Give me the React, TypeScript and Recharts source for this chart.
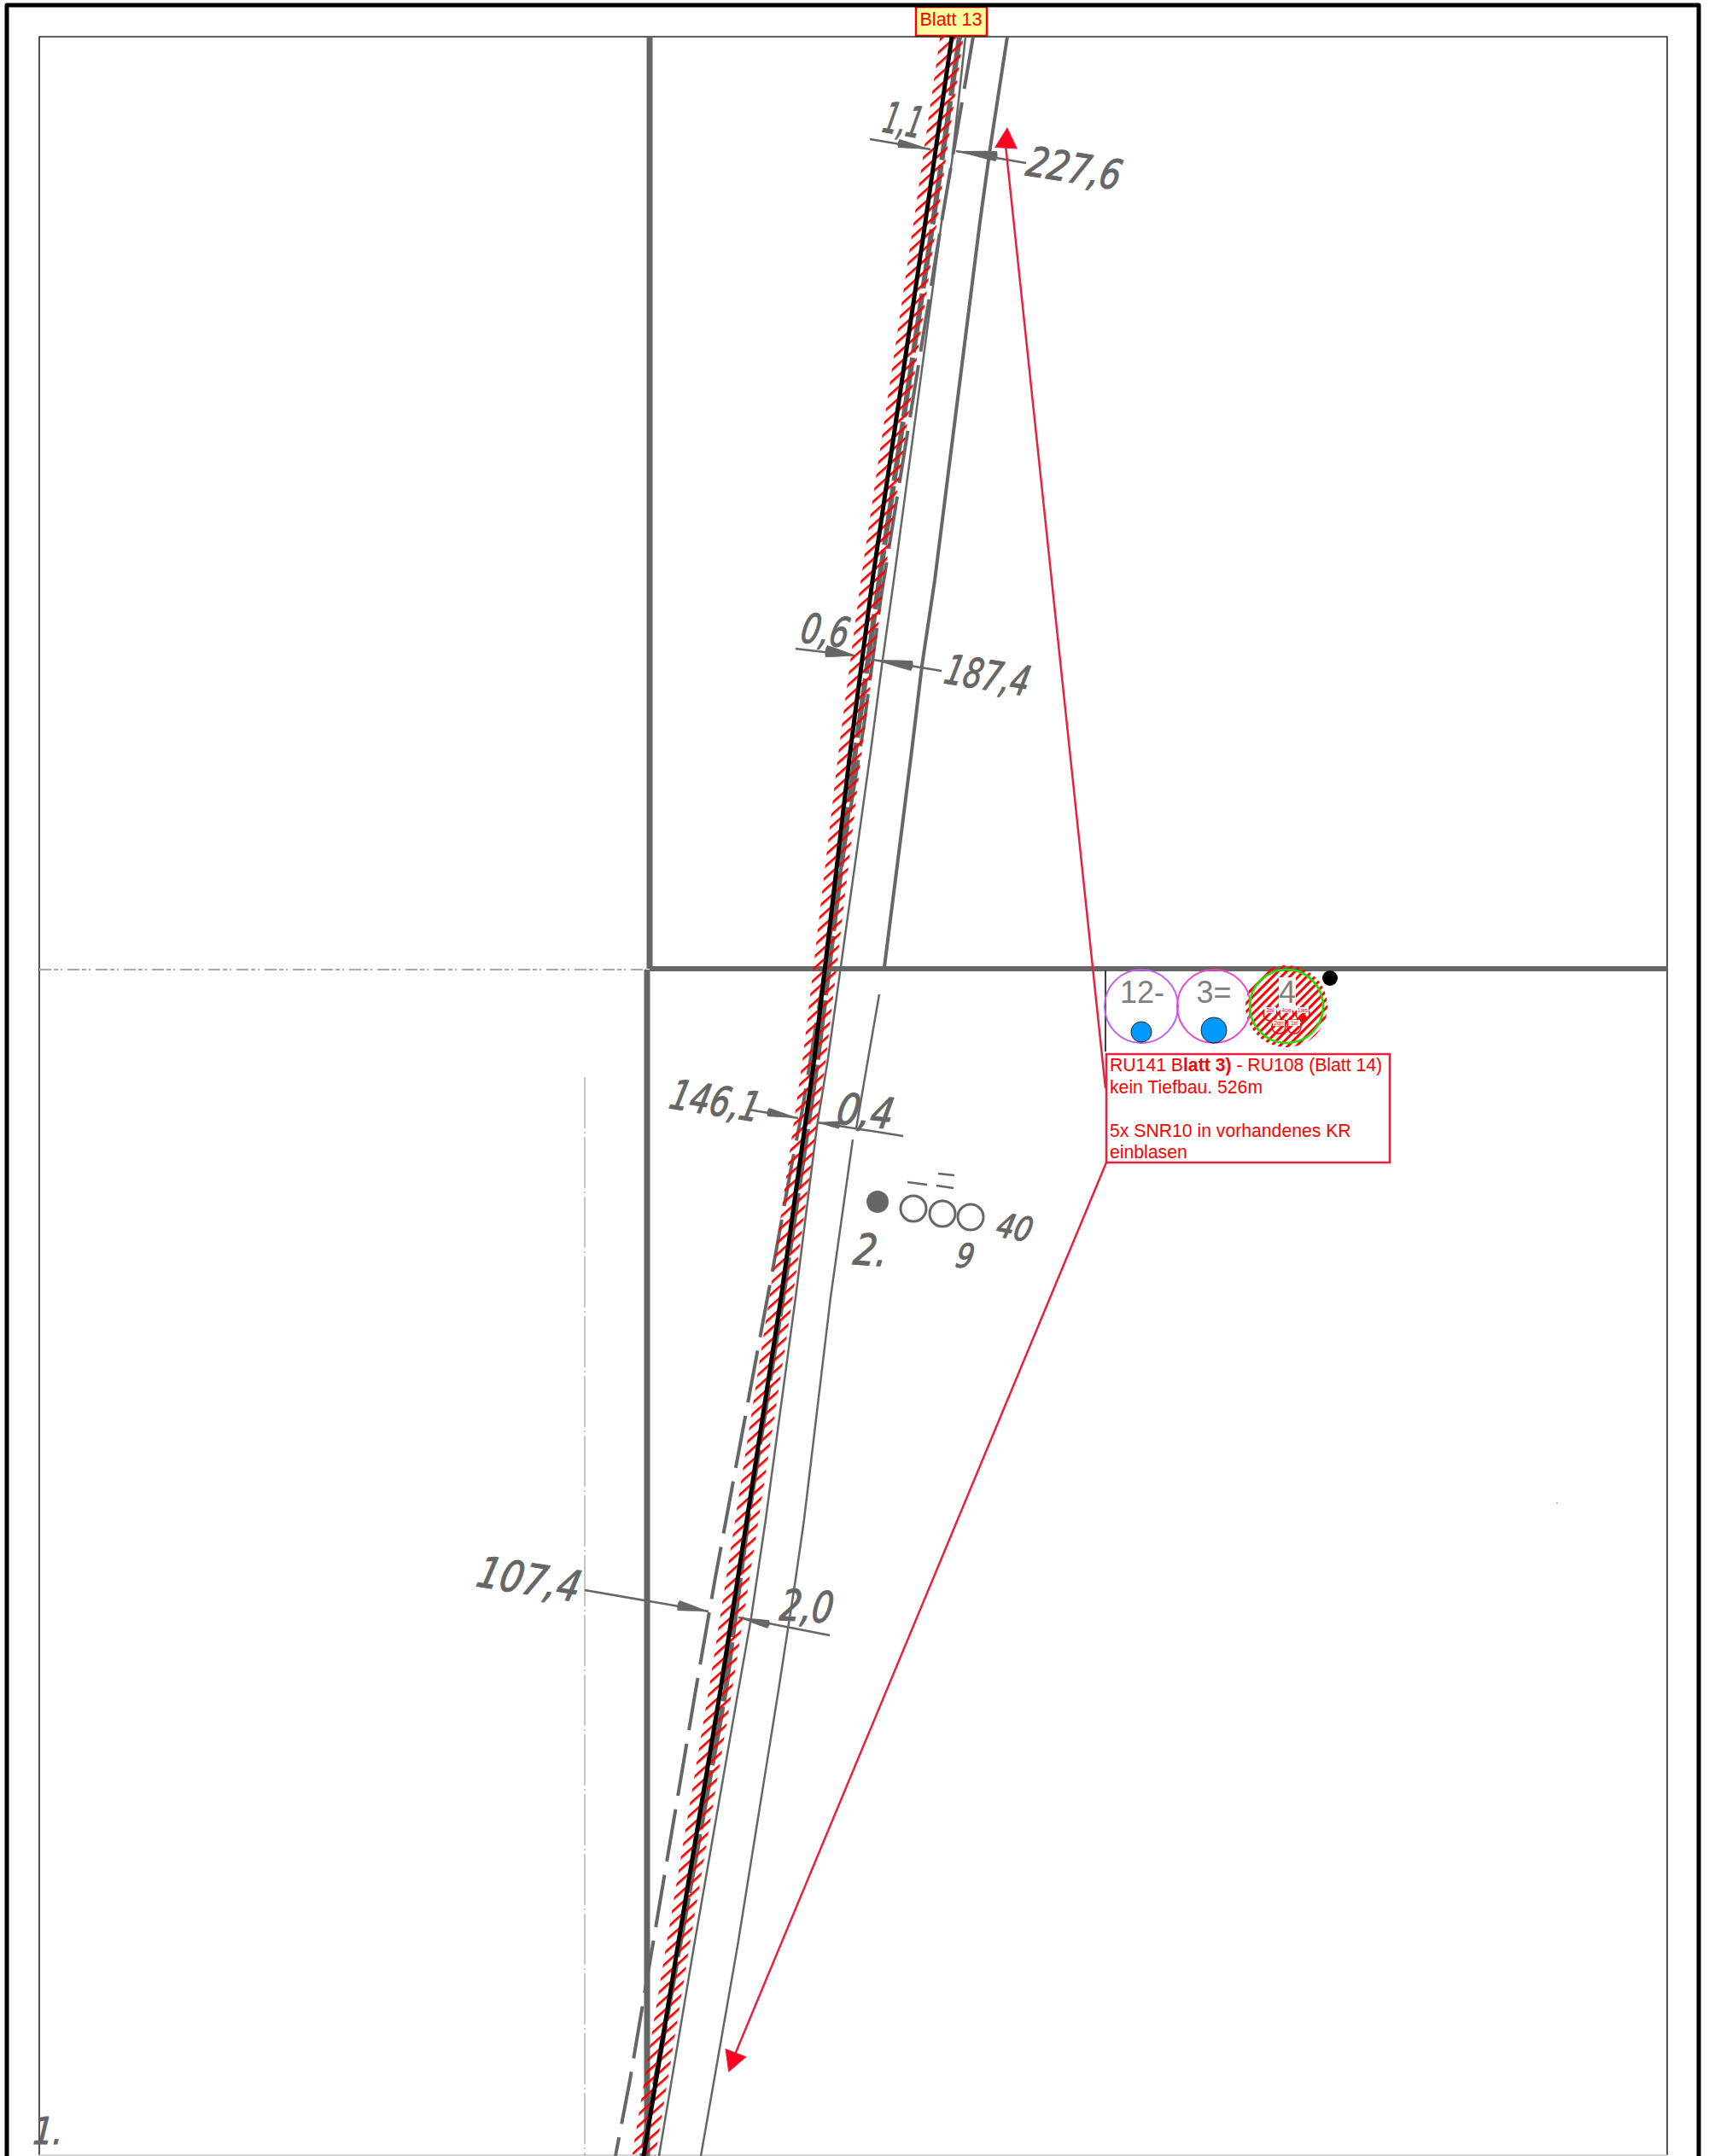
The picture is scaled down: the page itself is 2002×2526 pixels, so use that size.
import React from "react";
import { ComposedChart, Line, Scatter, XAxis, YAxis, ReferenceArea } from "recharts";

type P = { x: number; y: number };
const pts = (...v: number[][]): P[] => v.map(([x, y]) => ({ x, y }));

const GREY = "#666666";
const CRIMSON = "#e8203f";
const RED = "#ff0000";

const outerBorder = pts([8, 2530], [8, 6], [1990, 6], [1990, 2530]);
const frame = pts([46, 2525], [46, 43], [1953, 43], [1953, 2525]);
const frameBottom = pts([46, 2525], [1953, 2525]);

const mainCable = pts([1115, 43], [1084, 260], [1022, 680], [996, 880], [954, 1240], [915, 1520], [875, 1780], [844, 1980], [794, 2280], [754, 2526]);
const greyBand = pts([1124, 43], [1093, 260], [1030, 680], [1002, 880], [958, 1240], [917, 1520], [876, 1780], [850, 1980], [796, 2280], [752, 2526]);
const dashedEdge = pts([1140, 43], [1103, 260], [1032, 700], [1012, 850], [940, 1300], [927, 1367], [906, 1483], [838, 1848], [815, 1980], [738, 2437], [721, 2526]);
const lineB = pts([1131, 43], [1115, 190], [1103, 260], [1047, 680], [1033, 780], [1020, 880], [970, 1240], [957, 1320], [932, 1520], [897, 1780], [880, 1895], [865, 1980], [813, 2280], [772, 2526]);
const lineC1 = pts([1180, 43], [1160, 173], [1148, 260], [1095, 680], [1080, 780], [1068, 880], [1036, 1133]);
const lineC2 = pts([1030, 1165], [1017, 1240], [1003, 1322]);
const lineC3 = pts([999, 1335], [973, 1520], [942, 1780], [932, 1850], [912, 1980], [864, 2280], [821, 2526]);

const gridH = pts([761, 1135], [1953, 1135]);
const gridHFaint = pts([46, 1136], [757, 1136]);
const gridVTop = pts([761, 43], [761, 1135]);
const gridVBottom = pts([758, 1136], [758, 2526]);
const faintV = pts([685, 1262], [685, 2526]);

const dimLines = [
  pts([1019, 163], [1090, 175]),
  pts([1120, 177], [1202, 191]),
  pts([932, 760], [1000, 768]),
  pts([1023, 773], [1103, 786]),
  pts([877, 1300], [935, 1310]),
  pts([957, 1315], [1058, 1331]),
  pts([685, 1863], [830, 1888]),
  pts([865, 1895], [972, 1916]),
  pts([1063, 1385], [1086, 1388]),
  pts([1099, 1375], [1118, 1377]),
  pts([1097, 1389], [1117, 1392]),
];
const dimWedges = [
  { x: 1090, y: 175, bx: 1053, by: 168, w: 10 },
  { x: 1120, y: 177, bx: 1167, by: 183, w: 12 },
  { x: 1003, y: 768, bx: 968, by: 763, w: 14 },
  { x: 1023, y: 773, bx: 1068, by: 780, w: 12 },
  { x: 935, y: 1310, bx: 900, by: 1303, w: 10 },
  { x: 957, y: 1315, bx: 983, by: 1318, w: 9 },
  { x: 830, y: 1888, bx: 795, by: 1881, w: 12 },
  { x: 865, y: 1895, bx: 900, by: 1903, w: 10 },
];

const leaderUp = pts([1295, 1275], [1178, 170]);
const leaderDown = pts([1296, 1362], [861, 2407]);
const stubBlack = pts([1295, 1137], [1295, 1232]);

const circleMarks = [
  { x: 1558, y: 1146, r: 9, fill: "#000000", stroke: "none", w: 0 },
  { x: 1028, y: 1408, r: 13, fill: GREY, stroke: "none", w: 0 },
  { x: 1070, y: 1416, r: 15, fill: "#ffffff", stroke: GREY, w: 3 },
  { x: 1104, y: 1422, r: 15, fill: "#ffffff", stroke: GREY, w: 3 },
  { x: 1137, y: 1426, r: 15, fill: "#ffffff", stroke: GREY, w: 3 },
  { x: 1507, y: 1179, r: 48, fill: "url(#hatchDense)", stroke: "none", w: 0 },
  { x: 1337, y: 1179, r: 43, fill: "none", stroke: "#c060f0", w: 2 },
  { x: 1422, y: 1179, r: 43, fill: "none", stroke: "#ee44cc", w: 2 },
  { x: 1507, y: 1179, r: 43, fill: "none", stroke: "#22dd00", w: 2.5 },
  { x: 1337, y: 1209, r: 12, fill: "#0099ff", stroke: "#222222", w: 1 },
  { x: 1422, y: 1207, r: 15, fill: "#0099ff", stroke: "#222222", w: 1 },
  { x: 1488, y: 1188, r: 8, fill: "none", stroke: RED, w: 1.5 },
  { x: 1507, y: 1188, r: 8, fill: "none", stroke: RED, w: 1.5 },
  { x: 1526, y: 1188, r: 8, fill: "none", stroke: RED, w: 1.5 },
  { x: 1526, y: 1193, r: 5, fill: RED, stroke: "none", w: 0 },
  { x: 1498, y: 1203, r: 8, fill: "none", stroke: RED, w: 1.5 },
  { x: 1516, y: 1203, r: 8, fill: "none", stroke: RED, w: 1.5 },
  { x: 1824, y: 1761, r: 1, fill: "#aaaaaa", stroke: "none", w: 0 },
];

const arrowHeads = [
  { x: 1179, y: 165, size: 15, rot: 3 },
  { x: 859, y: 2413, size: 15, rot: 201 },
];

const handNotes = [
  { x: 1032, y: 154, text: "1,1", size: 46, rot: 10, sx: 0.62 },
  { x: 1200, y: 205, text: "227,6", size: 44, rot: 9, sx: 0.88 },
  { x: 936, y: 752, text: "0,6", size: 44, rot: 7, sx: 0.8 },
  { x: 1104, y: 800, text: "187,4", size: 44, rot: 9, sx: 0.79 },
  { x: 782, y: 1298, text: "146,1", size: 44, rot: 9, sx: 0.84 },
  { x: 978, y: 1316, text: "0,4", size: 46, rot: 6, sx: 0.9 },
  { x: 998, y: 1481, text: "2.", size: 46, rot: 4, sx: 0.9 },
  { x: 1118, y: 1484, text: "9", size: 36, rot: 6, sx: 0.9 },
  { x: 1165, y: 1448, text: "40", size: 36, rot: 10, sx: 0.9 },
  { x: 556, y: 1858, text: "107,4", size: 46, rot: 9, sx: 0.92 },
  { x: 912, y: 1898, text: "2,0", size: 46, rot: 3, sx: 0.85 },
  { x: 38, y: 2512, text: "1.", size: 40, rot: 0, sx: 0.9 },
];

const circleLabels = [
  { x: 1338, y: 1175, text: "12-", size: 36, plate: false },
  { x: 1422, y: 1175, text: "3=", size: 36, plate: false },
  { x: 1508, y: 1175, text: "4", size: 36, plate: true },
];

const tinyLabels = [
  { x: 1488, y: 1186, text: "3bl" },
  { x: 1507, y: 1186, text: "4ge" },
  { x: 1526, y: 1186, text: "1ws" },
  { x: 1498, y: 1201, text: "2gn" },
  { x: 1516, y: 1201, text: "1rt" },
];

const boxLines = [
  { x: 1300, y: 1255, parts: [{ t: "RU141 B", b: false }, { t: "latt 3)", b: true }, { t: " - RU108 (Blatt 14)", b: false }] },
  { x: 1300, y: 1281, parts: [{ t: "kein Tiefbau. 526m", b: false }] },
  { x: 1300, y: 1332, parts: [{ t: "5x SNR10 in vorhandenes KR", b: false }] },
  { x: 1300, y: 1357, parts: [{ t: "einblasen", b: false }] },
];
const sheetLabel = [{ x: 1114, y: 30, text: "Blatt 13" }];

const seg = (key: string, data: P[], stroke: string, w: number, dash?: string, cap: any = "butt") => (
  <Line
    key={key}
    data={data}
    dataKey="y"
    stroke={stroke}
    strokeWidth={w}
    strokeDasharray={dash}
    strokeLinecap={cap}
    strokeLinejoin="round"
    dot={false}
    activeDot={false}
    legendType="none"
    isAnimationActive={false}
    type="linear"
  />
);

const CircleShape = (p: any) => {
  const m = p.payload;
  return <circle cx={p.cx} cy={p.cy} r={m.r} fill={m.fill} stroke={m.stroke} strokeWidth={m.w} />;
};
const ArrowShape = (p: any) => {
  const m = p.payload;
  const s = m.size;
  return (
    <polygon
      points={`0,${-s} ${s * 0.85},${s * 0.55} ${-s * 0.85},${s * 0.55}`}
      transform={`translate(${p.cx},${p.cy}) rotate(${m.rot})`}
      fill="#ff0020"
      stroke={CRIMSON}
      strokeWidth={1}
    />
  );
};
const WedgeShape = (p: any) => {
  const m = p.payload;
  const dx = m.bx - m.x;
  const dy = m.by - m.y;
  const len = Math.hypot(dx, dy);
  const rot = (Math.atan2(dy, dx) * 180) / Math.PI;
  const h = m.w / 2;
  return (
    <path
      d={`M0,0 L${len * 0.7},${-h * 0.75} L${len},${-h} Q${len + 3},0 ${len},${h} L${len * 0.7},${h * 0.75} Z`}
      transform={`translate(${p.cx},${p.cy}) rotate(${rot})`}
      fill={GREY}
    />
  );
};
const HandShape = (p: any) => {
  const m = p.payload;
  return (
    <text
      transform={`translate(${p.cx},${p.cy}) rotate(${m.rot}) scale(${m.sx},1.1) skewX(-6)`}
      fontFamily="'DejaVu Sans'"
      fontStyle="oblique"
      fontSize={m.size}
      fill={GREY}
      stroke={GREY}
      strokeWidth={1}
    >
      {m.text}
    </text>
  );
};
const CircleLabelShape = (p: any) => {
  const m = p.payload;
  return (
    <g>
      {m.plate && <rect x={p.cx - 10} y={p.cy - 30} width={20} height={38} fill="#ffffff" />}
      <text x={p.cx} y={p.cy} textAnchor="middle" fontFamily="'Liberation Sans'" fontSize={m.size} fill="#808080">
        {m.text}
      </text>
    </g>
  );
};
const TinyShape = (p: any) => (
  <g>
    <rect x={p.cx - 7} y={p.cy - 6} width={14} height={7} fill="#ffffff" />
    <text x={p.cx} y={p.cy} textAnchor="middle" fontFamily="'Liberation Sans'" fontSize={7} fill={RED}>
      {p.payload.text}
    </text>
  </g>
);
const BoxLineShape = (p: any) => (
  <text x={p.cx} y={p.cy} fontFamily="'Liberation Sans'" fontSize={21.2} fill={RED} style={{ whiteSpace: "pre" }}>
    {p.payload.parts.map((q: any, i: number) => (
      <tspan key={i} fontWeight={q.b ? "bold" : "normal"}>
        {q.t}
      </tspan>
    ))}
  </text>
);
const SheetShape = (p: any) => (
  <text x={p.cx} y={p.cy} textAnchor="middle" fontFamily="'Liberation Sans'" fontSize={21.5} fill={RED}>
    {p.payload.text}
  </text>
);

const scat = (key: string, data: any[], shape: any) => (
  <Scatter key={key} data={data} dataKey="y" shape={shape} legendType="none" isAnimationActive={false} />
);

export default function App() {
  return (
    <div style={{ position: "absolute", left: 0, top: 0, width: 2002, height: 2526, background: "#fff" }}>
      <ComposedChart width={2002} height={2526} margin={{ top: 0, right: 0, bottom: 0, left: 0 }}>
        <defs>
          <pattern id="hatch" patternUnits="userSpaceOnUse" width="10" height="10" patternTransform="rotate(48)">
            <rect x="0" y="0" width="2.7" height="10" fill={RED} />
          </pattern>
          <pattern id="hatchDense" patternUnits="userSpaceOnUse" width="7" height="7" patternTransform="rotate(45)">
            <rect x="0" y="0" width="3" height="7" fill={RED} />
          </pattern>
        </defs>
        <XAxis type="number" dataKey="x" domain={[0, 2002]} hide allowDataOverflow />
        <YAxis type="number" dataKey="y" domain={[0, 2526]} reversed hide allowDataOverflow />

        {seg("outer", outerBorder, "#000000", 5)}
        {seg("frame", frame, "#2a2a2a", 1.6)}
        {seg("frameB", frameBottom, "#c4c4c4", 1.5)}
        {seg("gridH", gridH, GREY, 6)}
        {seg("gridHF", gridHFaint, "#aaaaaa", 2, "14 3 5 3 2 6")}
        {seg("gridVT", gridVTop, GREY, 7)}
        {seg("gridVB", gridVBottom, GREY, 7)}
        {seg("faintV", faintV, "#8c8c8c", 1, "60 4 2 4")}
        {seg("C1", lineC1, GREY, 4)}
        {seg("C2", lineC2, GREY, 2.5)}
        {seg("C3", lineC3, GREY, 2.5)}
        {seg("B", lineB, GREY, 2.5)}
        {seg("dashed", dashedEdge, GREY, 4, "62 16")}
        {seg("greyBand", greyBand, GREY, 6, "70 6")}
        {dimLines.map((d, i) => seg(`dim${i}`, d, GREY, 2.5))}
        {scat("wedges", dimWedges, WedgeShape)}
        {seg("hatch", mainCable, "url(#hatch)", 27)}
        {seg("main", mainCable, "#000000", 5)}
        {seg("leaderU", leaderUp, CRIMSON, 2.5)}
        {seg("leaderD", leaderDown, CRIMSON, 2.5)}
        {seg("stub", stubBlack, "#000000", 1.5)}

        {scat("circles", circleMarks, CircleShape)}
        {scat("arrows", arrowHeads, ArrowShape)}
        {scat("hand", handNotes, HandShape)}
        {scat("circleLabels", circleLabels, CircleLabelShape)}
        {scat("tiny", tinyLabels, TinyShape)}

        <ReferenceArea x1={1296} x2={1628} y1={1235} y2={1362} fill="#ffffff" fillOpacity={0} stroke={CRIMSON} strokeWidth={2.5} ifOverflow="visible" />
        <ReferenceArea x1={1073} x2={1156} y1={8} y2={42} fill="#ffffa0" fillOpacity={1} stroke={RED} strokeWidth={2.5} ifOverflow="visible" />
        {scat("box", boxLines, BoxLineShape)}
        {scat("sheet", sheetLabel, SheetShape)}
      </ComposedChart>
    </div>
  );
}
